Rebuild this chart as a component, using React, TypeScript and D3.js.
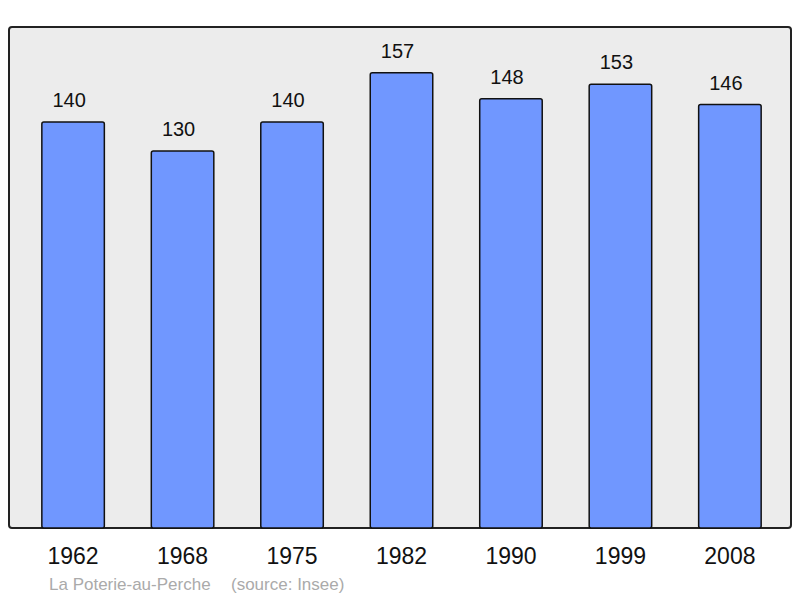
import * as d3 from "d3";

const years = ["1962", "1968", "1975", "1982", "1990", "1999", "2008"];
const population = [140, 130, 140, 157, 148, 153, 146];
const commune = "La Poterie-au-Perche";
const source = "(source: Insee)";

const W = 800;
const H = 598;
const left = 9;
const right = 791;
const top = 27;
const bottom = 528;

export default function App() {
  const x = d3
    .scaleBand()
    .domain(years)
    .range([left, right + 3])
    .paddingInner(0.429)
    .paddingOuter(0.3);
  const y = d3
    .scaleLinear()
    .domain([0, (bottom - top) / 2.9])
    .range([bottom, top]);

  return (
    <svg
      width={W}
      height={H}
      style={{ position: "absolute", left: 0, top: 0, fontFamily: "Liberation Sans, Arial, sans-serif" }}
    >
      <rect x={0} y={0} width={W} height={H} fill="#fff" />
      <rect
        x={left}
        y={top}
        width={right - left}
        height={bottom - top}
        rx={3}
        fill="#ececec"
        stroke="#222"
        strokeWidth={2}
      />
      {years.map((yr, i) => (
        <g key={yr}>
          <rect
            x={x(yr)}
            y={y(population[i])}
            width={x.bandwidth()}
            height={y(0) - y(population[i])}
            rx={2}
            fill="#7097ff"
            stroke="#111"
            strokeWidth={1.5}
          />
          <text
            x={x(yr)! + x.bandwidth() / 2 - 4}
            y={y(population[i]) - 15}
            textAnchor="middle"
            fontSize={20}
            fill="#111"
          >
            {population[i]}
          </text>
          <text
            x={x(yr)! + x.bandwidth() / 2}
            y={564}
            textAnchor="middle"
            fontSize={23}
            fill="#111"
          >
            {yr}
          </text>
        </g>
      ))}
      <text x={49} y={590} fontSize={17} fill="#aaa">
        {commune}
      </text>
      <text x={231} y={590} fontSize={17} fill="#aaa">
        {source}
      </text>
    </svg>
  );
}
